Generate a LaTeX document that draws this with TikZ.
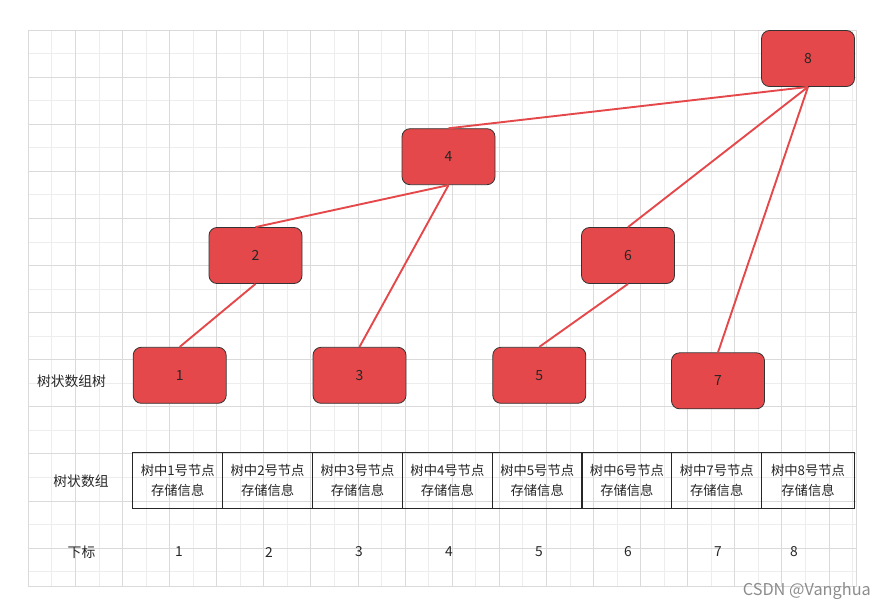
\documentclass[tikz,border=0pt]{standalone}
\usepackage{fontspec}
\setmainfont{Noto Sans CJK SC}
\definecolor{treered}{HTML}{E5484A}
\definecolor{edgered}{HTML}{E5484A}
\definecolor{majorgrid}{HTML}{DADADA}
\definecolor{minorgrid}{HTML}{EDEDED}
\definecolor{nodeborder}{HTML}{333333}
\begin{document}
\begin{tikzpicture}[x=1pt,y=-1pt,
  minorline/.style={draw=minorgrid, line width=0.9pt},
  majorline/.style={draw=majorgrid, line width=0.9pt},
  tnode/.style={draw=nodeborder, line width=0.8pt, fill=treered, rounded corners=8pt,
    minimum width=93pt, minimum height=56pt, inner sep=0pt,
    font=\fontsize{14}{16}\selectfont, text=black!85},
  cell/.style={draw=black!85, line width=1pt, minimum width=90pt, minimum height=56pt,
    inner sep=0pt, align=center, font=\fontsize{13.3}{19.5}\selectfont, text=black!85},
  lbl/.style={inner sep=0pt, font=\fontsize{13.8}{16}\selectfont, text=black!85},
  edge/.style={draw=edgered, line width=1.9pt}]
\useasboundingbox (0,0) rectangle (885,610);
% grid
\foreach \i in {1,3,...,35} \draw[minorline] ({28.3+23.55*\i},30) -- ({28.3+23.55*\i},586);
\foreach \j in {1,3,...,23} \draw[minorline] (28.3,{30+23.55*\j}) -- (856.7,{30+23.55*\j});
\foreach \i in {0,2,...,34} \draw[majorline] ({28.3+23.55*\i},30) -- ({28.3+23.55*\i},586);
\foreach \j in {0,2,...,22} \draw[majorline] (28.3,{30+23.55*\j}) -- (856.7,{30+23.55*\j});
\draw[majorline] (856.7,30) -- (856.7,586);
\draw[majorline] (28.3,586) -- (856.7,586);
% edges (drawn below the nodes)
\path (808,58.5) coordinate (p8) (448.5,156.7) coordinate (p4);
% tree nodes
\node[tnode] (n8) at (808,58.5) {8};
\node[tnode] (n4) at (448.5,156.7) {4};
\node[tnode] (n2) at (255.5,255.5) {2};
\node[tnode] (n6) at (628,255.5) {6};
\node[tnode] (n1) at (179.7,375.3) {1};
\node[tnode] (n3) at (359.5,375.3) {3};
\node[tnode] (n5) at (539.3,375.3) {5};
\node[tnode] (n7) at (718,380.8) {7};
\draw[edge] (n8.south) -- (n4.north);
\draw[edge] (n4.south) -- (n2.north);
\draw[edge] (n4.south) -- (n3.north);
\draw[edge] (n2.south) -- (n1.north);
\draw[edge] (n8.south) -- (n6.north);
\draw[edge] (n8.south) -- (n7.north);
\draw[edge] (n6.south) -- (n5.north);
% table
\node[cell] (c1) at (177.7,480.3) {树中1号节点\\存储信息};
\node[cell] (c2) at (267.6,480.3) {树中2号节点\\存储信息};
\node[cell] (c3) at (357.5,480.3) {树中3号节点\\存储信息};
\node[cell] (c4) at (447.4,480.3) {树中4号节点\\存储信息};
\node[cell] (c5) at (537.2,480.3) {树中5号节点\\存储信息};
\node[cell] (c6) at (626.9,480.3) {树中6号节点\\存储信息};
\node[cell] (c7) at (716.7,480.3) {树中7号节点\\存储信息};
\node[cell, minimum width=92.6pt] (c8) at (808,480.3) {树中8号节点\\存储信息};
% row labels
\node[lbl] (l1) at (71.5,381.5) {树状数组树};
\node[lbl] (l2) at (81,481.5) {树状数组};
\node[lbl] (l3) at (81.5,552.5) {下标};
% indices
\node[lbl] (i1) at (179,552) {1};
\node[lbl] (i2) at (269,552) {2};
\node[lbl] (i3) at (359,552) {3};
\node[lbl] (i4) at (449,552) {4};
\node[lbl] (i5) at (539,552) {5};
\node[lbl] (i6) at (628,552) {6};
\node[lbl] (i7) at (718,552) {7};
\node[lbl] (i8) at (794,552) {8};
% watermark
\node[inner sep=0pt, anchor=east, font=\fontsize{16.3}{18}\selectfont, text=black!45] (wm) at (871,591) {CSDN @Vanghua};
\end{tikzpicture}
\end{document}
